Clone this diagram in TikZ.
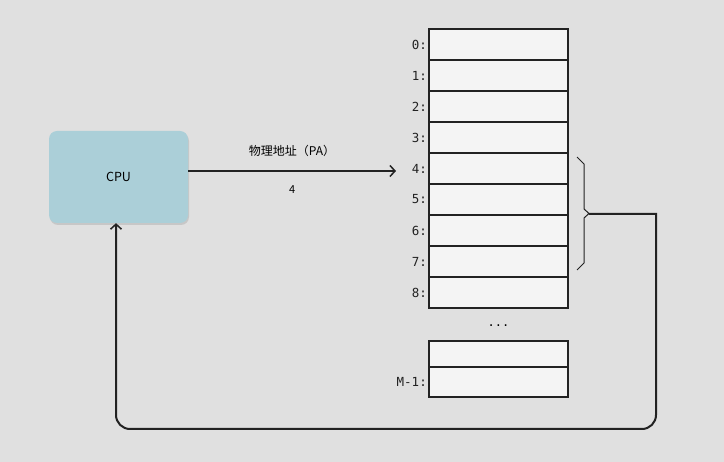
\documentclass[tikz,border=0pt]{standalone}
\usepackage{fontspec}
\setmainfont{Noto Sans CJK SC}
\setmonofont{DejaVu Sans Mono}
\usetikzlibrary{positioning}
\usetikzlibrary{shadows}
\usetikzlibrary{arrows.meta}
\definecolor{bggray}{HTML}{E0E0E0}
\definecolor{cpublue}{HTML}{ABCFD8}
\definecolor{cellfill}{HTML}{F4F4F4}
\definecolor{linecol}{HTML}{222222}
\tikzset{
  cell/.style={draw=linecol, fill=cellfill, line width=1.2pt, minimum width=139pt, minimum height=31pt, inner sep=0pt, outer sep=0pt},
  addr/.style={font=\ttfamily\fontsize{12.5}{14}\selectfont, text=linecol, inner sep=2pt},
  conn/.style={draw=linecol, line width=2pt, -{Straight Barb[length=5pt,width=11pt,line width=1.5pt]}}
}
\begin{document}
\begin{tikzpicture}[x=1pt,y=-1pt]
\fill[bggray] (0,0) rectangle (724,462);
\useasboundingbox (0,0) rectangle (724,462);

\node[fill=cpublue, rounded corners=8pt, minimum width=139pt, minimum height=92pt,
  drop shadow={shadow xshift=1pt, shadow yshift=-2pt, opacity=0.25},
  font=\fontsize{12.5}{14}\selectfont] (cpu) at (118.5,177) {CPU};

% memory cells 0..8
\node[cell, label={[addr]left:0:}] (m0) at (498.5,44.5) {};
\foreach \i [count=\j from 0] in {1,...,8}
  \node[cell, below=0pt of m\j, label={[addr]left:\i:}] (m\i) {};

\node[font=\ttfamily\fontsize{12}{14}\selectfont] (dots) at (498.5,326) {...};
\node[cell, minimum height=26pt] (ma) at (498.5,354) {};
\node[cell, below=0pt of ma, minimum height=30pt, label={[addr]left:M-1:}] (mb) {};

% address bus
\coordinate (pa) at (396,171);
\draw[conn] (cpu.east |- pa) -- node[above=10pt, font=\fontsize{12}{14}\selectfont]{物理地址（PA）}
  node[below=10pt, font=\fontsize{11}{13}\selectfont]{4} (pa);

% data back to cpu
\draw[linecol, line width=1pt] (577,157) -- (584,164) -- (584,209) -- (589,213.5) coordinate (tip)
  -- (584,218) -- (584,263) -- (577,270);
\coordinate (corner) at (656,214);
\draw[conn] (tip |- corner) -- (corner) -- (656,300) [rounded corners=14pt] -- (656,429) -- (116,429) -- (cpu.south -| 116,0);
\end{tikzpicture}
\end{document}
